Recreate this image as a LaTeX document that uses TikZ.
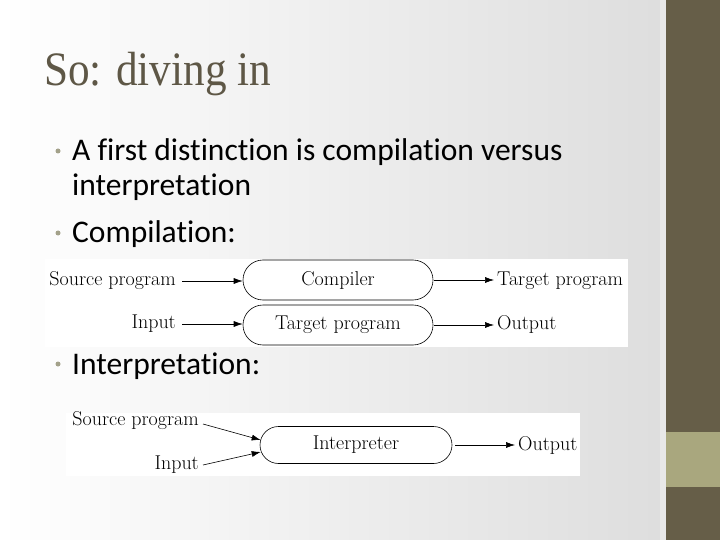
\documentclass[tikz,border=0pt]{standalone}
\usepackage{fontspec}
\newfontfamily\bodyfont[Ligatures=NoCommon]{Carlito}
\newfontfamily\titlefont{Liberation Serif}
\usetikzlibrary{arrows.meta,shapes.misc}
\definecolor{bardark}{HTML}{665E48}
\definecolor{barlight}{HTML}{A9A77E}
\definecolor{titlecol}{HTML}{5E5746}
\definecolor{bulletcol}{HTML}{A3A18A}
\tikzset{
  lm/.style={font=\fontsize{20}{22}\selectfont, inner sep=0pt},
  procbox/.style={draw, line width=0.6pt, rounded rectangle, minimum width=190pt, minimum height=40pt, font=\fontsize{20}{22}\selectfont, inner sep=0pt},
  arr/.style={-{Latex[length=9pt,width=6pt]}, line width=0.6pt},
  body/.style={font=\bodyfont\fontsize{31.5}{34}\selectfont, anchor=base west, inner sep=0pt, text=black},
  bul/.style={circle, fill=bulletcol, inner sep=0pt, minimum size=5pt}
}
\begin{document}
\begin{tikzpicture}[x=1pt,y=-1pt]
\useasboundingbox (0,0) rectangle (720,540);
\shade[left color=white, right color=black!13] (0,0) rectangle (660,540);
\fill[black!9] (660,0) rectangle (666,540);
\fill[bardark] (666,0) rectangle (720,540);
\fill[barlight] (666,432) rectangle (720,487);
% title
\node[anchor=base west, inner sep=0pt, text=titlecol, font=\titlefont\fontsize{48}{52}\selectfont, xscale=0.9] (title) at (44,86) {So: diving in};
% bullets
\node[bul] (b1) at (58,151) {};
\node[body] (t1) at (72,161) {A first distinction is compilation versus};
\node[body] (t2) at (72,196) {interpretation};
\node[bul] (b2) at (58,233) {};
\node[body] (t3) at (72,243) {Compilation:};
\node[bul] (b3) at (58,364) {};
\node[body] (t4) at (72,374) {Interpretation:};
% compilation diagram
\fill[white] (45,259) rectangle (628,347);
\node[lm, anchor=east] (src) at (176,281) {Source program};
\node[procbox] (comp) at (338,280) {Compiler};
\node[lm, anchor=west] (tgt) at (497,281) {Target program};
\node[lm, anchor=east] (inp) at (176,324) {Input};
\node[procbox] (tprog) at (338,325) {Target program};
\node[lm, anchor=west] (out) at (497,324) {Output};
\draw[arr] (src.east) ++(6,0) coordinate (s1) -- (s1 -| comp.west);
\draw[arr] (comp.east) ++(1,0) coordinate (c1) -- ([xshift=-3pt]c1 -| tgt.west);
\draw[arr] (inp.east) ++(6,0) coordinate (i1) -- (i1 -| tprog.west);
\draw[arr] (tprog.east) ++(1,0) coordinate (p1) -- ([xshift=-3pt]p1 -| out.west);
% interpretation diagram
\fill[white] (66,413) rectangle (580,476);
\node[lm, anchor=east] (src2) at (199,421) {Source program};
\node[lm, anchor=east] (inp2) at (199,465) {Input};
\node[procbox, minimum width=192pt, minimum height=37pt] (interp) at (356,445) {Interpreter};
\node[lm, anchor=west] (out2) at (518,445) {Output};
\draw[arr] ([xshift=4pt,yshift=-3pt]src2.east) -- ([xshift=1pt,yshift=5pt]interp.west);
\draw[arr] ([xshift=4pt]inp2.east) -- ([xshift=1pt,yshift=-7pt]interp.west);
\draw[arr] ([xshift=3pt]interp.east) -- ([xshift=-3pt]out2.west);
\end{tikzpicture}
\end{document}
